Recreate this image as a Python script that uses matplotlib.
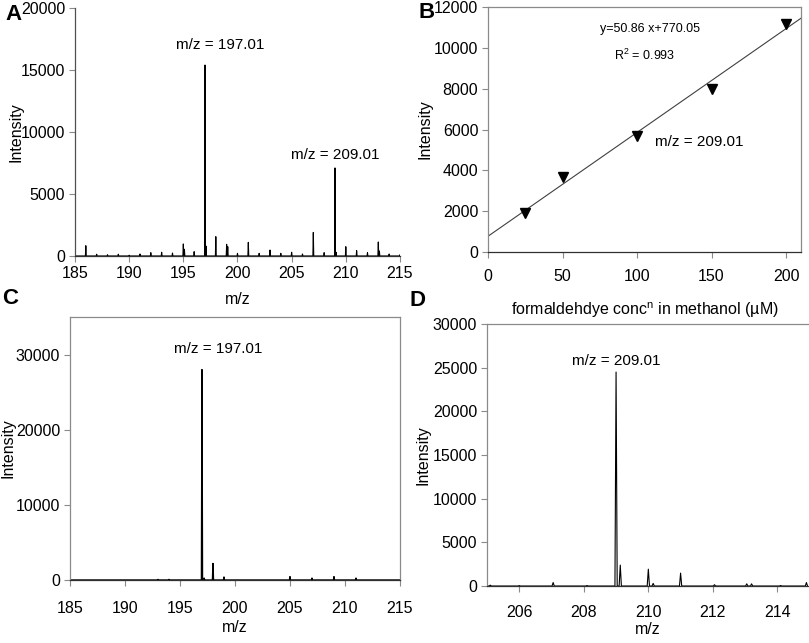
import numpy as np
import matplotlib
matplotlib.use("Agg")
import matplotlib.pyplot as plt

plt.rcParams['font.family'] = ['Liberation Sans', 'DejaVu Sans']

# ---- panel A: spectrum (m/z, intensity) ----
a_mz = [185.0, 186.0, 187.0, 188.0, 189.0, 190.0, 191.0, 192.0, 193.0, 194.0,
        195.0, 195.1, 196.0, 197.0, 197.1, 198.0, 199.0, 199.1, 200.0, 201.0,
        202.0, 203.0, 204.0, 205.0, 206.0, 207.0, 208.0, 209.0, 209.1, 210.0,
        211.0, 212.0, 213.0, 213.1, 214.0, 215.0]
a_int = [1050, 830, 140, 100, 140, 60, 160, 270, 300, 240,
         970, 540, 350, 15400, 800, 1560, 940, 750, 215, 1100,
         215, 480, 215, 300, 160, 1900, 270, 7100, 300, 750,
         430, 270, 1130, 400, 160, 100]

# ---- panel B: calibration ----
b_conc = [25, 50, 100, 150, 200]
b_int = [1900, 3650, 5700, 8000, 11150]
b_slope, b_icpt = 50.86, 770.05

# ---- panel C: spectrum ----
c_mz = [193.0, 194.0, 197.0, 197.2, 198.0, 199.0, 205.0, 207.0, 209.0, 211.0]
c_int = [80, 80, 28000, 250, 2200, 400, 450, 250, 450, 250]

# ---- panel D: spectrum ----
d_mz = [205.1, 206.0, 207.05, 208.1, 209.0, 209.13, 210.0, 210.15, 211.0,
        212.05, 213.05, 213.2, 214.1, 214.9]
d_int = [100, 50, 400, 60, 24500, 2400, 1930, 300, 1480,
         150, 250, 250, 60, 400]


def stick_profile(mz, inten, lo, hi, hw):
    # turn a peak list into a thin triangular line trace with a zero baseline
    xs, ys = [lo], [0]
    for m, h in sorted(zip(mz, inten)):
        xs += [m - hw, m, m + hw]
        ys += [0, h, 0]
    xs.append(hi)
    ys.append(0)
    return xs, ys


GRAY = '#8a8a8a'
TICK = 11.5
LAB = 11.5

fig = plt.figure(figsize=(8.09, 6.43), dpi=100)

axA = fig.add_axes([0.0927, 0.6019, 0.4017, 0.3857])
axB = fig.add_axes([0.6032, 0.6081, 0.3869, 0.3810])
axC = fig.add_axes([0.0865, 0.0980, 0.4079, 0.4090])
axD = fig.add_axes([0.6020, 0.0886, 0.3968, 0.4075])

# A
x, y = stick_profile(a_mz, a_int, 185, 215, 0.04)
axA.plot(x, y, color='black', lw=0.8)
axA.set_xlim(185, 215)
axA.set_ylim(0, 20000)
axA.set_xticks(np.arange(185, 216, 5))
axA.set_yticks(np.arange(0, 20001, 5000))
axA.spines['top'].set_visible(False)
axA.spines['right'].set_visible(False)
axA.set_xlabel('m/z', fontsize=LAB, labelpad=8)
axA.set_ylabel('Intensity', fontsize=LAB, labelpad=-2)
axA.text(198.4, 17000, 'm/z = 197.01', ha='center', va='center', fontsize=11)
axA.text(209.0, 8150, 'm/z = 209.01', ha='center', va='center', fontsize=11)

# B
xfit = np.array([0, 210])
axB.plot(xfit, b_slope * xfit + b_icpt, color='#404040', lw=0.8)
axB.plot(b_conc, b_int, 'v', color='black', markersize=7)
axB.set_xlim(0, 210)
axB.set_ylim(0, 12000)
axB.set_xticks(np.arange(0, 201, 50))
axB.set_yticks(np.arange(0, 12001, 2000))
axB.set_xlabel('formaldehdye conc$^\\mathregular{n}$ in methanol (µM)', fontsize=LAB, labelpad=12)
axB.set_ylabel('Intensity', fontsize=LAB, labelpad=1)
axB.text(109, 10920, 'y=50.86 x+770.05', ha='center', va='center', fontsize=9)
axB.text(105, 9650, 'R$^\\mathregular{2}$ = 0.993', ha='center', va='center', fontsize=9)
axB.text(142, 5400, 'm/z = 209.01', ha='center', va='center', fontsize=11)

# C
x, y = stick_profile(c_mz, c_int, 185, 215, 0.05)
axC.plot(x, y, color='black', lw=1.0)
axC.set_xlim(185, 215)
axC.set_ylim(0, 35000)
axC.set_xticks(np.arange(185, 216, 5))
axC.set_yticks(np.arange(0, 30001, 10000))
axC.set_xlabel('m/z', fontsize=LAB, labelpad=3)
axC.set_ylabel('Intensity', fontsize=LAB, labelpad=0)
axC.text(198.5, 30800, 'm/z = 197.01', ha='center', va='center', fontsize=11)

# D
x, y = stick_profile(d_mz, d_int, 205, 215, 0.035)
axD.plot(x, y, color='black', lw=0.8)
axD.set_xlim(205, 214.95)
axD.set_ylim(0, 30000)
axD.set_xticks(np.arange(206, 215, 2))
axD.set_yticks(np.arange(0, 30001, 5000))
axD.spines['right'].set_visible(False)
axD.set_xlabel('m/z', fontsize=LAB, labelpad=1)
axD.set_ylabel('Intensity', fontsize=LAB, labelpad=2)
axD.text(209.0, 25800, 'm/z = 209.01', ha='center', va='center', fontsize=11)

for ax in (axA, axB, axC, axD):
    for s in ax.spines.values():
        s.set_color(GRAY)
        s.set_linewidth(0.9)
    ax.spines['bottom'].set_color('#303030')
    ax.tick_params(labelsize=TICK, length=4, width=0.8, color=GRAY, direction='out', pad=3)
axA.spines['left'].set_color('#505050')
axB.tick_params(axis='x', pad=8)
axC.tick_params(axis='x', pad=11)
axD.tick_params(axis='x', pad=10)

# panel letters
for lab, px, py in [('A', 13, 15), ('B', 427, 12), ('C', 10, 298), ('D', 417, 301)]:
    fig.text(px / 809, 1 - py / 643, lab, fontsize=16, fontweight='bold',
             ha='center', va='center')

fig.savefig('out.png', dpi=100)
